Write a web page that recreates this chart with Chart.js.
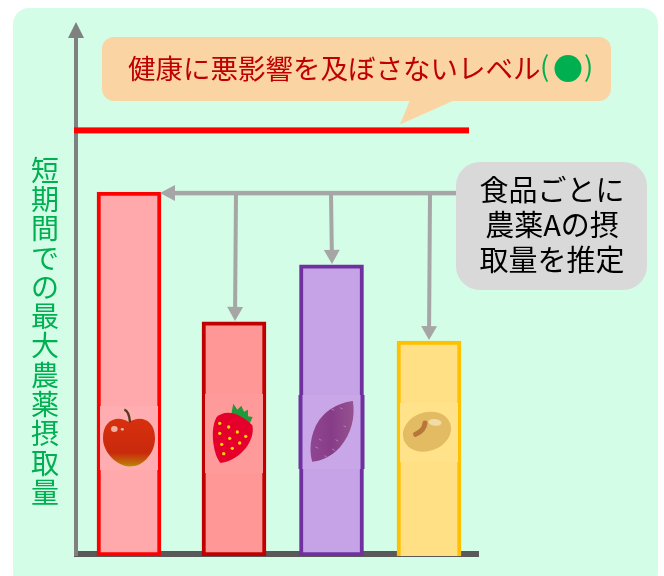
<!DOCTYPE html>
<html lang="ja">
<head>
<meta charset="utf-8">
<title>短期間での最大農薬摂取量</title>
<script src="https://cdn.jsdelivr.net/npm/chart.js@4/dist/chart.umd.min.js"></script>
<style>
  html, body { margin: 0; padding: 0; background: #fff; }
  #wrap { position: relative; width: 664px; height: 576px; overflow: hidden; }
  #panel { position: absolute; left: 13px; top: 8px; width: 645px; height: 580px; background: #d4fde8; border-radius: 16px; }
  #chart { position: absolute; left: 0; top: 0; }
</style>
</head>
<body>
<div id="wrap">
  <div id="panel"></div>
  <canvas id="chart" width="664" height="576"></canvas>
</div>
<script>
/* ── Data ─────────────────────────────────────────────────── */
var foods = ["りんご", "いちご", "さつまいも", "大豆"];
var intake = [85.5, 55, 68.4, 50.5];
var safeLevel = 100;
var axisTitle = "短期間での最大農薬摂取量";
var levelLabel = "健康に悪影響を及ぼさないレベル";
var noteLines = ["食品ごとに", "農薬Aの摂", "取量を推定"];

/* ── Styles ───────────────────────────────────────────────── */
var FONT = "'Noto Sans CJK JP', 'Noto Sans', sans-serif";
var fills = ["#ffa9ad", "#ff9797", "#c6a3e6", "#ffe084"];
var borders = ["#ff0000", "#c00000", "#7030a0", "#ffc000"];
var patches = ["#ffadb0", "#ff9a9a", "#c8a6e7", "#ffe289"];
var barNudge = [0, 5, 2.5, 0];
// top and height of the pale square behind each food picture
var patchTop = [406, 394, 395, 403];
var patchHeight = [64, 79, 74, 59];

function roundBox(ctx, x, y, w, h, r, color) {
  ctx.fillStyle = color;
  ctx.beginPath();
  ctx.roundRect(x, y, w, h, r);
  ctx.fill();
}

function arrow(ctx, x1, y1, x2, y2, width, head, halfHead, color) {
  var a = Math.atan2(y2 - y1, x2 - x1);
  var len = Math.hypot(x2 - x1, y2 - y1);
  ctx.save();
  ctx.translate(x1, y1);
  ctx.rotate(a);
  ctx.fillStyle = color;
  ctx.fillRect(0, -width / 2, len - head + 1, width);
  ctx.beginPath();
  ctx.moveTo(len, 0);
  ctx.lineTo(len - head, -halfHead);
  ctx.lineTo(len - head, halfHead);
  ctx.closePath();
  ctx.fill();
  ctx.restore();
}

/* ── Food pictures, one per bar (3x units, origin at the centre) ── */
var icons = [
  function apple(ctx) {
    var g = ctx.createLinearGradient(0, -60, 0, 90);
    g.addColorStop(0, "#d8300f");
    g.addColorStop(0.72, "#c92a0c");
    g.addColorStop(0.9, "#c2640a");
    g.addColorStop(1, "#b09400");
    ctx.fillStyle = g;
    ctx.beginPath();
    ctx.moveTo(0, -44);
    ctx.bezierCurveTo(30, -66, 78, -56, 78, 4);
    ctx.bezierCurveTo(78, 50, 40, 90, 6, 88);
    ctx.bezierCurveTo(-30, 92, -78, 50, -78, 4);
    ctx.bezierCurveTo(-78, -56, -30, -66, 0, -44);
    ctx.fill();
    ctx.strokeStyle = "#5a3a1a";
    ctx.lineWidth = 7;
    ctx.beginPath();
    ctx.moveTo(-14, -82);
    ctx.quadraticCurveTo(0, -78, 3, -44);
    ctx.stroke();
    ctx.fillStyle = "#f0b0a0";
    ctx.beginPath();
    ctx.ellipse(-44, -24, 10, 9, 0, 0, 7);
    ctx.ellipse(-20, -23, 5, 4, 0, 0, 7);
    ctx.fill();
  },
  function strawberry(ctx) {
    ctx.fillStyle = "#1f9a3a";
    ctx.beginPath();
    ctx.moveTo(-8, -70);
    ctx.lineTo(-2, -100);
    ctx.lineTo(10, -82);
    ctx.lineTo(22, -94);
    ctx.lineTo(30, -76);
    ctx.lineTo(42, -82);
    ctx.lineTo(42, -62);
    ctx.lineTo(56, -60);
    ctx.lineTo(46, -38);
    ctx.closePath();
    ctx.fill();
    ctx.fillStyle = "#e4002b";
    ctx.beginPath();
    ctx.moveTo(-52, -60);
    ctx.bezierCurveTo(-30, -80, 10, -80, 55, -35);
    ctx.bezierCurveTo(65, 10, 20, 70, -40, 78);
    ctx.bezierCurveTo(-60, 60, -75, -20, -52, -60);
    ctx.fill();
    ctx.fillStyle = "#ffd400";
    [[-43, -41], [-16, -30], [-43, -11], [10, -15], [-13, 4], [35, -2], [-37, 22], [17, 18], [-5, 34], [-31, 50]].forEach(function (p) {
      ctx.beginPath();
      ctx.arc(p[0], p[1], 5, 0, 7);
      ctx.fill();
    });
  },
  function sweetPotato(ctx) {
    var g = ctx.createLinearGradient(-60, 0, 60, 0);
    g.addColorStop(0, "#8f4690");
    g.addColorStop(0.5, "#873c88");
    g.addColorStop(1, "#94508f");
    ctx.fillStyle = g;
    ctx.beginPath();
    ctx.moveTo(64, -108);
    ctx.bezierCurveTo(72, -60, 60, -10, 26, 30);
    ctx.bezierCurveTo(-2, 60, -30, 72, -58, 74);
    ctx.bezierCurveTo(-70, 30, -60, -30, -24, -66);
    ctx.bezierCurveTo(0, -92, 40, -106, 64, -108);
    ctx.fill();
    ctx.strokeStyle = "#b98ab8";
    ctx.lineWidth = 2.5;
    [[0, -84], [26, -88], [36, -34], [12, 8], [-38, 6], [-48, 30], [2, 36], [-22, 56]].forEach(function (p) {
      ctx.beginPath();
      ctx.moveTo(p[0], p[1]);
      ctx.lineTo(p[0] + 8, p[1] + 4);
      ctx.stroke();
    });
  },
  function soybean(ctx) {
    ctx.fillStyle = "#e2bb63";
    ctx.beginPath();
    ctx.ellipse(-6, -16, 74, 58, -0.35, 0, 7);
    ctx.fill();
    ctx.strokeStyle = "#b8763a";
    ctx.lineWidth = 15;
    ctx.lineCap = "round";
    ctx.beginPath();
    ctx.moveTo(-40, -8);
    ctx.quadraticCurveTo(-14, -20, -12, -42);
    ctx.stroke();
    ctx.lineCap = "butt";
    ctx.fillStyle = "#f0dca6";
    ctx.beginPath();
    ctx.ellipse(18, -44, 20, 10, 0.1, 0, 7);
    ctx.fill();
  }
];

/* ── Everything around the bars ───────────────────────────── */
var behindBars = {
  id: "behindBars",
  afterDatasetsUpdate: function (chart) {
    // bars are not quite evenly spaced in the original
    chart.getDatasetMeta(0).data.forEach(function (bar, i) {
      bar.x += barNudge[i];
    });
  },
  beforeDatasetsDraw: function (chart) {
    var ctx = chart.ctx;
    var y = chart.scales.y;
    ctx.fillStyle = "#595959";
    ctx.fillRect(74, y.getPixelForValue(0) - 5, 405, 6);
    arrow(ctx, 76, y.getPixelForValue(0), 76, 22, 4, 16, 8, "#808080");
  }
};

var overBars = {
  id: "overBars",
  afterDatasetsDraw: function (chart) {
    var ctx = chart.ctx;
    var y = chart.scales.y;
    var bars = chart.getDatasetMeta(0).data;

    // food pictures
    bars.forEach(function (bar, i) {
      if (i === 2) {
        // the potato's square sticks out past the bar border
        ctx.fillStyle = borders[2];
        ctx.fillRect(bar.x - 33, patchTop[2], 66, patchHeight[2]);
      }
      ctx.fillStyle = patches[i];
      ctx.fillRect(bar.x - 29, patchTop[i], 58, patchHeight[i]);
      ctx.save();
      ctx.translate(bar.x, 437);
      ctx.scale(1 / 3, 1 / 3);
      icons[i](ctx);
      ctx.restore();
    });

    // safe level line
    var levelY = y.getPixelForValue(safeLevel);
    ctx.fillStyle = "#ff0000";
    ctx.fillRect(74, levelY - 3, 395, 6);

    // callout for the level
    ctx.fillStyle = "#fbd4a4";
    ctx.beginPath();
    ctx.moveTo(410, 100);
    ctx.lineTo(400, levelY - 6);
    ctx.lineTo(455, 100);
    ctx.closePath();
    ctx.fill();
    roundBox(ctx, 102, 37, 509, 64, 12, "#fbd4a4");
    ctx.textBaseline = "middle";
    ctx.textAlign = "left";
    ctx.font = "27.5px " + FONT;
    ctx.fillStyle = "#c00000";
    ctx.fillText(levelLabel, 128, 69);
    ctx.fillStyle = "#00b050";
    ctx.fillText("(", 540, 67);
    ctx.fillText(")", 584, 67);
    ctx.font = "30px " + FONT;
    ctx.fillText("●", 553, 69);

    // note box and its arrows
    var topY = y.getPixelForValue(intake[0]) + 1;
    arrow(ctx, 458, topY, bars[0].x + 31, topY, 4.5, 15, 8, "#a6a6a6");
    arrow(ctx, 236, topY, 235, y.getPixelForValue(intake[1]) - 1, 4, 14, 8, "#a6a6a6");
    arrow(ctx, 331, topY, 332, y.getPixelForValue(intake[2]) - 1, 4, 14, 8, "#a6a6a6");
    arrow(ctx, 430, topY, 429, y.getPixelForValue(intake[3]) - 1, 4, 14, 8, "#a6a6a6");
    roundBox(ctx, 456, 162, 191, 128, 24, "#d9d9d9");
    ctx.textAlign = "center";
    ctx.font = "29px " + FONT;
    ctx.fillStyle = "#000";
    noteLines.forEach(function (line, i) {
      ctx.fillText(line, 552, 190 + i * 35);
    });

    // upright vertical axis title
    ctx.font = "28px " + FONT;
    ctx.fillStyle = "#00b050";
    Array.from(axisTitle).forEach(function (ch, i) {
      ctx.fillText(ch, 45, 170 + i * 29.3);
    });
  }
};

/* ── Chart ────────────────────────────────────────────────── */
new Chart(document.getElementById("chart"), {
  type: "bar",
  data: {
    labels: foods,
    datasets: [{
      data: intake,
      backgroundColor: fills,
      borderColor: borders,
      borderWidth: 4,
      borderSkipped: function (c) { return c.dataIndex === 3 ? "bottom" : false; },
      barThickness: 64
    }]
  },
  options: {
    responsive: false,
    animation: false,
    devicePixelRatio: 1,
    layout: { padding: { left: 79, right: 185, top: 24, bottom: 20 } },
    plugins: { legend: { display: false }, tooltip: { enabled: false } },
    scales: {
      x: { display: false },
      y: { display: false, min: 0, max: 125 }
    }
  },
  plugins: [behindBars, overBars]
});
</script>
</body>
</html>
